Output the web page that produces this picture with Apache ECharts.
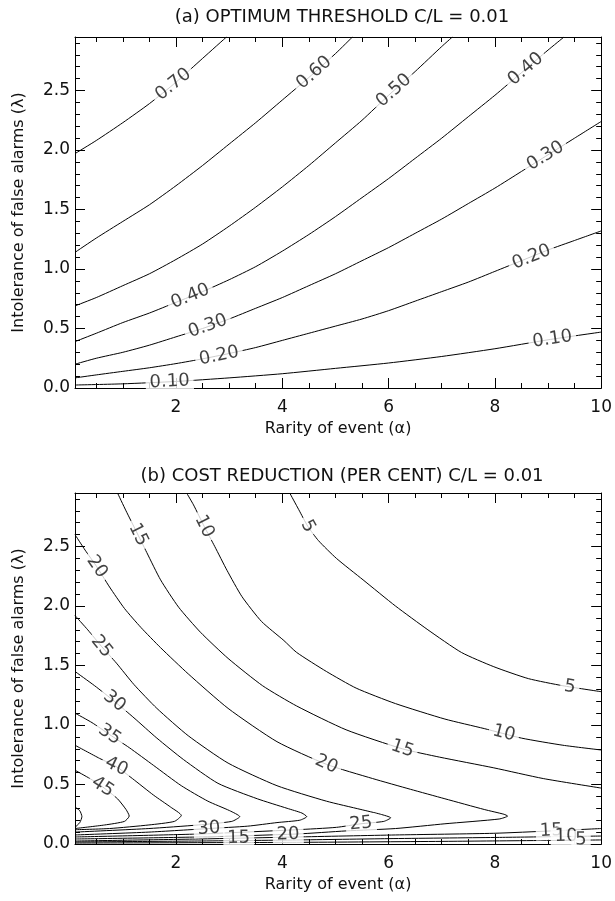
<!DOCTYPE html>
<html><head><meta charset="utf-8">
<script src="https://cdn.jsdelivr.net/npm/echarts@6/dist/echarts.min.js"></script>
<style>html,body{margin:0;padding:0;background:#fff}#c{width:615px;height:901px}</style>
</head><body><div id="c"></div>
<script>
// ---------- tick values ----------
const xMajor = [2, 4, 6, 8, 10];
const xMinor = [0.5,1,1.5,2,2.5,3,3.5,4,4.5,5,5.5,6,6.5,7,7.5,8,8.5,9,9.5,10];
const yMajor = [0, 0.5, 1, 1.5, 2, 2.5];
const yMinor = [0,0.1,0.2,0.3,0.4,0.5,0.6,0.7,0.8,0.9,1,1.1,1.2,1.3,1.4,1.5,1.6,1.7,1.8,1.9,2,2.1,2.2,2.3,2.4,2.5,2.6,2.7,2.8,2.9];

// ---------- (a) optimum threshold contours [alpha, lambda] ----------
const thr10 = [[0.1,0.025],[1.0,0.035],[2.0,0.055],[3.0,0.085],[4.0,0.12],[5.0,0.165],[6.0,0.21],[7.0,0.265],[8.0,0.33],[9.0,0.405],[10,0.47]];
const thr20 = [[0.1,0.085],[0.5,0.11],[1.0,0.14],[1.5,0.17],[2.0,0.205],[2.5,0.245],[3.0,0.29],[3.5,0.34],[4.0,0.40],[4.5,0.46],[5.0,0.52],[5.5,0.58],[6.0,0.65],[6.5,0.73],[7.0,0.81],[7.5,0.89],[8.0,0.98],[8.5,1.07],[9.0,1.16],[9.5,1.24],[10,1.32]];
const thr30 = [[0.1,0.20],[0.5,0.25],[1.0,0.30],[1.5,0.36],[2.0,0.43],[2.5,0.50],[3.0,0.58],[3.5,0.67],[4.0,0.76],[4.5,0.86],[5.0,0.96],[5.5,1.07],[6.0,1.18],[6.5,1.30],[7.0,1.42],[7.5,1.55],[8.0,1.68],[8.5,1.82],[9.0,1.96],[9.5,2.10],[10,2.24]];
const thr40 = [[0.1,0.39],[0.5,0.46],[1.0,0.55],[1.5,0.63],[2.0,0.72],[2.5,0.81],[3.0,0.91],[3.5,1.02],[4.0,1.15],[4.5,1.29],[5.0,1.44],[5.5,1.60],[6.0,1.76],[6.5,1.93],[7.0,2.10],[7.5,2.28],[8.0,2.46],[8.5,2.65],[9.0,2.84],[9.3,2.95]];
const thr50 = [[0.1,0.69],[0.5,0.76],[1.0,0.86],[1.5,0.96],[2.0,1.08],[2.5,1.21],[3.0,1.36],[3.5,1.52],[4.0,1.69],[4.5,1.87],[5.0,2.06],[5.5,2.25],[6.0,2.46],[6.5,2.66],[7.0,2.87],[7.2,2.95]];
const thr60 = [[0.1,1.14],[0.5,1.26],[1.0,1.40],[1.5,1.54],[2.0,1.70],[2.5,1.87],[3.0,2.05],[3.5,2.23],[4.0,2.42],[4.5,2.61],[5.0,2.81],[5.32,2.95]];
const thr70 = [[0.1,1.97],[0.5,2.08],[1.0,2.23],[1.5,2.39],[2.0,2.57],[2.5,2.77],[2.95,2.95]];
const thrLabels = [[1.95,2.55,'0.70'],[4.6,2.65,'0.60'],[6.1,2.50,'0.50'],[8.58,2.68,'0.40'],[8.95,1.95,'0.30'],[8.69,1.10,'0.20'],[9.08,0.41,'0.10'],
  [2.27,0.77,'0.40'],[2.6,0.52,'0.30'],[2.81,0.27,'0.20'],[1.88,0.052,'0.10']];

// ---------- (b) cost reduction contours [alpha, lambda] ----------
const cr5a = [[4.14,2.95],[4.31,2.81],[4.48,2.67],[4.68,2.55],[5.02,2.40],[5.52,2.22],[6.13,2.00],[6.74,1.80],[7.37,1.61],[7.98,1.49],[8.63,1.39],[9.28,1.33],[10,1.28]];
const cr5b = [[10,0.034],[7.0,0.022],[4.27,0.014],[0.1,0.008]];
const cr10a = [[2.20,2.95],[2.33,2.85],[2.53,2.67],[2.73,2.50],[2.96,2.30],[3.24,2.08],[3.61,1.87],[4.03,1.71],[4.27,1.61],[4.83,1.45],[5.39,1.31],[6.13,1.18],[7.06,1.05],[7.80,0.97],[8.50,0.89],[9.28,0.83],[10,0.79]];
const cr10b = [[10,0.067],[8.0,0.055],[6.0,0.045],[4.27,0.034],[2.4,0.025],[0.1,0.017]];
const cr15a = [[0.90,2.95],[1.06,2.80],[1.25,2.63],[1.45,2.45],[1.71,2.22],[2.05,1.99],[2.46,1.78],[2.98,1.56],[3.63,1.33],[4.27,1.16],[5.20,0.96],[6.26,0.80],[6.96,0.73],[7.98,0.64],[8.91,0.55],[10,0.47]];
const cr15b = [[10,0.13],[9.06,0.11],[7.98,0.09],[6.13,0.076],[4.27,0.059],[2.42,0.042],[0.1,0.025]];
const cr20 = [[0.10,2.60],[0.29,2.47],[0.51,2.33],[0.75,2.16],[1.03,1.98],[1.34,1.82],[1.71,1.65],[2.23,1.43],[2.98,1.14],[3.90,0.86],[4.83,0.67],[5.70,0.55],[6.41,0.46],[7.06,0.38],[7.80,0.29],[8.17,0.25],[8.24,0.235],[8.08,0.21],[7.06,0.17],[6.13,0.13],[5.20,0.11],[4.27,0.084],[2.42,0.059],[0.1,0.042]];
const cr25 = [[0.10,1.92],[0.34,1.80],[0.60,1.66],[0.88,1.52],[1.21,1.34],[1.64,1.14],[2.23,0.91],[2.98,0.68],[3.90,0.49],[4.83,0.36],[5.48,0.29],[5.85,0.25],[6.04,0.22],[5.91,0.19],[5.48,0.17],[5.02,0.14],[4.27,0.12],[2.42,0.084],[0.1,0.059]];
const cr30 = [[0.10,1.45],[0.47,1.33],[0.84,1.20],[1.21,1.06],[1.64,0.89],[2.14,0.71],[2.79,0.51],[3.53,0.38],[4.09,0.30],[4.37,0.26],[4.46,0.23],[4.33,0.20],[3.90,0.18],[3.35,0.15],[2.62,0.13],[1.49,0.10],[0.10,0.076]];
const cr35 = [[0.10,1.10],[0.42,1.02],[0.75,0.92],[1.12,0.81],[1.58,0.66],[2.10,0.49],[2.60,0.36],[3.01,0.28],[3.20,0.23],[3.05,0.19],[2.42,0.16],[1.49,0.13],[0.10,0.10]];
const cr40 = [[0.10,0.83],[0.56,0.72],[0.88,0.65],[1.18,0.55],[1.58,0.41],[1.90,0.31],[2.10,0.24],[1.97,0.19],[1.49,0.16],[0.75,0.13],[0.10,0.12]];
const cr45 = [[0.10,0.62],[0.38,0.55],[0.62,0.48],[0.90,0.38],[1.06,0.29],[1.12,0.235],[1.03,0.19],[0.66,0.16],[0.10,0.13]];
const cr50 = [[0.1,0.31],[0.19,0.28],[0.23,0.23],[0.19,0.18],[0.1,0.14]];
const crLabels = [[4.48,2.67,'5'],[2.53,2.67,'10'],[1.29,2.60,'15'],[0.51,2.33,'20'],[0.60,1.66,'25'],[0.84,1.20,'30'],[0.75,0.92,'35'],[0.88,0.65,'40'],[0.62,0.48,'45'],
  [9.41,1.32,'5'],[8.17,0.93,'10'],[6.26,0.80,'15'],[4.83,0.67,'20'],[5.48,0.17,'25'],
  [2.62,0.13,'30'],[3.18,0.05,'15'],[4.11,0.08,'20'],[9.06,0.11,'15'],[9.34,0.065,'10'],[9.62,0.035,'5']];

const titles = ['(a) OPTIMUM THRESHOLD C/L = 0.01', '(b) COST REDUCTION (PER CENT) C/L = 0.01'];
const xName = 'Rarity of event (\u03b1)';
const yName = 'Intolerance of false alarms (\u03bb)';

// ---------- build ----------
const FONT = 'DejaVu Sans';
const INK = '#000';
const panels = [
  {lines: [thr10, thr20, thr30, thr40, thr50, thr60, thr70], labels: thrLabels},
  {lines: [cr5a, cr5b, cr10a, cr10b, cr15a, cr15b, cr20, cr25, cr30, cr35, cr40, cr45, cr50], labels: crLabels}
];
const grids = [
  {left: 75, right: 6, top: 37, height: 351},
  {left: 75, right: 6, top: 493, height: 351}
];
const xAxes = [], yAxes = [];
grids.forEach((g, gi) => {
  const base = {gridIndex: gi, type: 'value', min: 0.1, max: 10, splitLine: {show: false}};
  const lineOn = {show: true, onZero: false, lineStyle: {color: INK, width: 1}};
  const lineOff = {show: false, onZero: false};
  xAxes.push(Object.assign({}, base, {position: 'bottom', axisLine: lineOn,
    axisTick: {show: true, inside: true, length: 10, customValues: xMajor, lineStyle: {color: INK}},
    axisLabel: {show: true, customValues: xMajor, margin: 11, fontSize: 17, fontFamily: FONT, color: '#111'},
    name: xName, nameLocation: 'middle', nameGap: 33, nameTextStyle: {fontSize: 16, fontFamily: FONT, color: '#111'}}));
  xAxes.push(Object.assign({}, base, {position: 'bottom', axisLine: lineOff,
    axisTick: {show: true, inside: true, length: 5, customValues: xMinor, lineStyle: {color: INK}}, axisLabel: {show: false}}));
  xAxes.push(Object.assign({}, base, {position: 'top', axisLine: lineOn,
    axisTick: {show: true, inside: true, length: 10, customValues: xMajor, lineStyle: {color: INK}}, axisLabel: {show: false}}));
  xAxes.push(Object.assign({}, base, {position: 'top', axisLine: lineOff,
    axisTick: {show: true, inside: true, length: 5, customValues: xMinor, lineStyle: {color: INK}}, axisLabel: {show: false}}));
  const ybase = {gridIndex: gi, type: 'value', min: 0, max: 2.95, splitLine: {show: false}};
  yAxes.push(Object.assign({}, ybase, {position: 'left', axisLine: lineOn,
    axisTick: {show: true, inside: true, length: 10, customValues: yMajor, lineStyle: {color: INK}},
    axisLabel: {show: true, customValues: yMajor, margin: 5, fontSize: 17, fontFamily: FONT, color: '#111', formatter: v => Number(v).toFixed(1)},
    name: yName, nameLocation: 'middle', nameGap: 48, nameRotate: 90, nameTextStyle: {fontSize: 16, fontFamily: FONT, color: '#111'}}));
  yAxes.push(Object.assign({}, ybase, {position: 'left', axisLine: lineOff,
    axisTick: {show: true, inside: true, length: 5, customValues: yMinor, lineStyle: {color: INK}}, axisLabel: {show: false}}));
  yAxes.push(Object.assign({}, ybase, {position: 'right', axisLine: lineOn,
    axisTick: {show: true, inside: true, length: 10, customValues: yMajor, lineStyle: {color: INK}}, axisLabel: {show: false}}));
  yAxes.push(Object.assign({}, ybase, {position: 'right', axisLine: lineOff,
    axisTick: {show: true, inside: true, length: 5, customValues: yMinor, lineStyle: {color: INK}}, axisLabel: {show: false}}));
});

const lineSeries = [];
panels.forEach((p, gi) => {
  p.lines.forEach(d => lineSeries.push({type: 'line', xAxisIndex: 4 * gi, yAxisIndex: 4 * gi, data: d,
    symbol: 'none', showSymbol: false, smooth: 0.2, silent: true, z: 2,
    lineStyle: {color: INK, width: 1}}));
});

const chart = echarts.init(document.getElementById('c'), null, {renderer: 'canvas'});
chart.setOption({
  animation: false,
  backgroundColor: '#fff',
  grid: grids,
  xAxis: xAxes,
  yAxis: yAxes,
  graphic: titles.map((t, i) => ({type: 'text', x: 342, y: i === 0 ? 17 : 476,
    style: {text: t, fontSize: 18, fontFamily: FONT, fill: '#111', textAlign: 'center', textVerticalAlign: 'middle'}})),
  series: lineSeries
});

function rotationAt(gi, pt, lines) {
  const finder = {xAxisIndex: 4 * gi, yAxisIndex: 4 * gi};
  const P = chart.convertToPixel(finder, pt);
  let best = Infinity, ang = 0;
  lines.forEach(l => {
    for (let i = 0; i < l.length - 1; i++) {
      const a = chart.convertToPixel(finder, l[i]);
      const b = chart.convertToPixel(finder, l[i + 1]);
      const dx = b[0] - a[0], dy = b[1] - a[1];
      const len2 = dx * dx + dy * dy || 1;
      let t = ((P[0] - a[0]) * dx + (P[1] - a[1]) * dy) / len2;
      t = Math.max(0, Math.min(1, t));
      const qx = a[0] + t * dx - P[0], qy = a[1] + t * dy - P[1];
      const dist = qx * qx + qy * qy;
      if (dist < best) { best = dist; ang = Math.atan2(dy, dx); }
    }
  });
  let r = -ang * 180 / Math.PI;
  while (r > 90) r -= 180;
  while (r <= -90) r += 180;
  return r;
}

const labelSeries = panels.map((p, gi) => ({
  type: 'scatter', xAxisIndex: 4 * gi, yAxisIndex: 4 * gi, symbol: 'circle', symbolSize: 1, silent: true, z: 5,
  itemStyle: {color: 'rgba(0,0,0,0)'},
  label: {show: true, position: 'inside', color: '#111', fontSize: 18, fontFamily: FONT,
    backgroundColor: '#fff', padding: [0, 4]},
  emphasis: {disabled: true},
  data: p.labels.map(L => ({value: [L[0], L[1]],
    label: {show: true, formatter: L[2], rotate: rotationAt(gi, [L[0], L[1]], p.lines)}}))
}));

chart.setOption({series: lineSeries.concat(labelSeries)});
</script>
</body></html>
